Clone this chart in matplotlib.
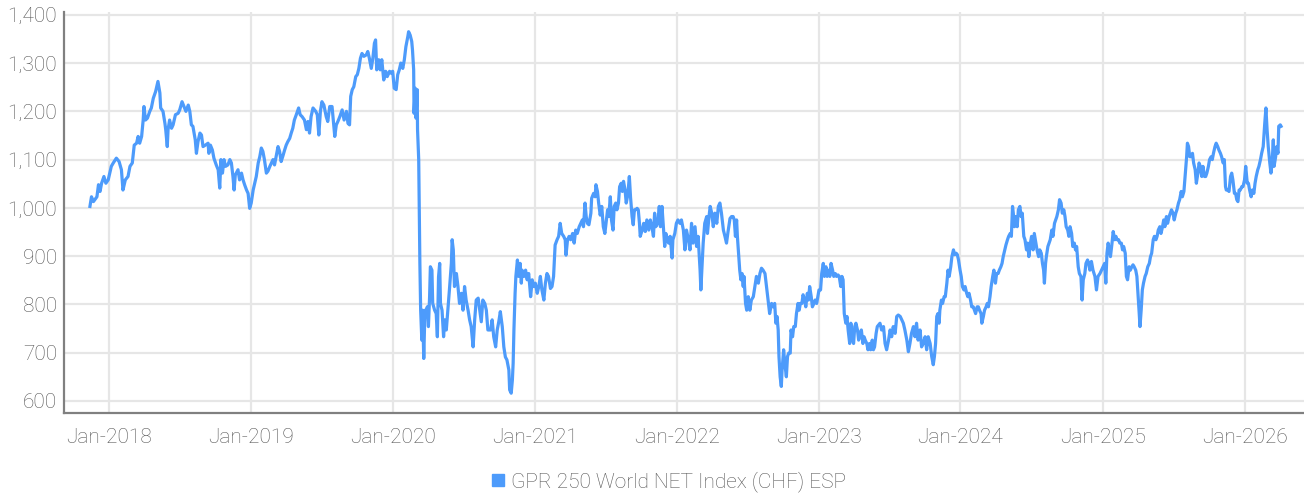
import matplotlib.pyplot as plt
import matplotlib.dates as mdates
from matplotlib.lines import Line2D
from matplotlib.ticker import FuncFormatter
import pandas as pd

# index levels, one list pair per calendar year (MM-DD, value)
days_2017 = ["11-13", "11-17", "11-22", "12-01", "12-05", "12-09", "12-13", "12-19", "12-24", "12-30"]
vals_2017 = [1003, 1023, 1013, 1023, 1048, 1034, 1051, 1065, 1051, 1058]

days_2018 = ["01-03", "01-07", "01-12", "01-20", "01-27", "02-02", "02-06", "02-12", "02-19", "02-24",
             "03-02", "03-07", "03-13", "03-17", "03-21", "03-26", "03-30", "04-01", "04-05", "04-10",
             "04-16", "04-20", "04-25", "05-01", "05-07", "05-12", "05-14", "05-20", "05-25", "05-27",
             "05-31", "06-02", "06-06", "06-11", "06-15", "06-21", "06-28", "07-02", "07-08", "07-13",
             "07-18", "07-24", "07-28", "08-01", "08-05", "08-11", "08-14", "08-18", "08-23", "08-27",
             "08-31", "09-06", "09-13", "09-15", "09-19", "09-24", "09-28", "10-04", "10-09", "10-13",
             "10-16", "10-20", "10-24", "10-28", "11-03", "11-08", "11-12", "11-16", "11-19", "11-22",
             "11-29", "12-03", "12-08", "12-12", "12-16", "12-21", "12-25", "12-29"]
vals_2018 = [1072, 1086, 1093, 1103, 1096, 1079, 1037, 1058, 1065, 1086,
             1093, 1130, 1134, 1148, 1134, 1148, 1182, 1210, 1182, 1186,
             1200, 1207, 1227, 1241, 1262, 1238, 1207, 1200, 1175, 1162,
             1127, 1162, 1182, 1165, 1172, 1193, 1196, 1203, 1220, 1210,
             1200, 1213, 1200, 1172, 1169, 1141, 1113, 1137, 1155, 1151,
             1127, 1130, 1134, 1113, 1130, 1120, 1103, 1089, 1079, 1041,
             1100, 1072, 1100, 1086, 1089, 1100, 1093, 1065, 1037, 1068,
             1079, 1058, 1072, 1058, 1048, 1037, 1030, 999]

days_2019 = ["01-02", "01-07", "01-11", "01-15", "01-20", "01-24", "01-28", "02-01", "02-05", "02-10",
             "02-14", "02-19", "02-23", "02-27", "03-03", "03-07", "03-12", "03-16", "03-20", "03-24",
             "03-29", "04-02", "04-06", "04-11", "04-15", "04-19", "04-23", "04-28", "05-04", "05-08",
             "05-13", "05-19", "05-24", "05-28", "06-01", "06-05", "06-10", "06-17", "06-21", "06-25",
             "06-29", "07-03", "07-08", "07-14", "07-18", "07-23", "07-29", "08-02", "08-05", "08-09",
             "08-13", "08-18", "08-24", "08-29", "09-04", "09-08", "09-12", "09-15", "09-19", "09-23",
             "09-28", "10-02", "10-06", "10-10", "10-14", "10-19", "10-25", "10-29", "11-02", "11-07",
             "11-11", "11-15", "11-18", "11-21", "11-26", "11-30", "12-04", "12-09", "12-14", "12-18",
             "12-24", "12-28"]
vals_2019 = [1010, 1037, 1051, 1065, 1093, 1106, 1124, 1117, 1100, 1072,
             1076, 1086, 1093, 1100, 1089, 1106, 1127, 1117, 1096, 1106,
             1120, 1130, 1137, 1144, 1155, 1165, 1182, 1193, 1207, 1193,
             1189, 1182, 1162, 1179, 1155, 1189, 1207, 1200, 1193, 1151,
             1200, 1220, 1213, 1189, 1179, 1210, 1210, 1175, 1148, 1172,
             1179, 1189, 1203, 1182, 1200, 1175, 1172, 1231, 1245, 1251,
             1272, 1276, 1289, 1310, 1320, 1314, 1317, 1324, 1310, 1289,
             1310, 1341, 1348, 1286, 1307, 1286, 1307, 1265, 1283, 1272,
             1283, 1279]

days_2020 = ["01-01", "01-05", "01-10", "01-14", "01-18", "01-22", "01-27", "01-31", "02-04", "02-09",
             "02-11", "02-15", "02-19", "02-21", "02-24", "02-25", "02-28", "03-01", "03-04", "03-05",
             "03-08", "03-10", "03-11", "03-13", "03-16", "03-18", "03-21", "03-24", "03-27", "03-30",
             "04-02", "04-05", "04-07", "04-11", "04-13", "04-18", "04-22", "04-25", "04-28", "05-01",
             "05-03", "05-07", "05-11", "05-14", "05-18", "05-22", "05-26", "05-31", "06-02", "06-05",
             "06-08", "06-13", "06-17", "06-21", "06-26", "06-30", "07-04", "07-08", "07-13", "07-17",
             "07-21", "07-26", "07-30", "08-03", "08-08", "08-12", "08-16", "08-20", "08-25", "08-29",
             "09-02", "09-09", "09-13", "09-17", "09-22", "09-26", "09-30", "10-04", "10-09", "10-13",
             "10-17", "10-21", "10-26", "10-28", "11-01", "11-04", "11-06", "11-08", "11-11", "11-13",
             "11-17", "11-20", "11-24", "11-27", "11-29", "12-04", "12-08", "12-12", "12-16", "12-21",
             "12-25", "12-29"]
vals_2020 = [1283, 1248, 1245, 1276, 1286, 1300, 1289, 1307, 1334, 1355,
             1365, 1358, 1345, 1327, 1286, 1196, 1248, 1186, 1245, 1162,
             1100, 954, 885, 788, 726, 788, 688, 788, 775, 795,
             754, 816, 878, 871, 802, 788, 781, 733, 857, 885,
             802, 788, 733, 768, 747, 788, 830, 885, 934, 913,
             837, 864, 837, 802, 823, 788, 837, 809, 788, 768,
             754, 712, 768, 809, 813, 788, 764, 809, 802, 788,
             747, 747, 768, 733, 712, 747, 764, 785, 754, 712,
             691, 685, 664, 623, 616, 643, 678, 747, 823, 858,
             892, 858, 885, 844, 871, 858, 871, 851, 864, 816,
             851, 837]

days_2021 = ["01-02", "01-07", "01-11", "01-15", "01-19", "01-24", "01-28", "02-01", "02-05", "02-10",
             "02-14", "02-18", "02-22", "02-27", "03-03", "03-07", "03-11", "03-16", "03-20", "03-22",
             "03-26", "03-30", "04-03", "04-08", "04-12", "04-16", "04-20", "04-25", "04-29", "05-03",
             "05-06", "05-10", "05-13", "05-16", "05-20", "05-25", "05-27", "06-01", "06-05", "06-07",
             "06-11", "06-14", "06-18", "06-22", "06-26", "06-30", "07-03", "07-07", "07-10", "07-14",
             "07-17", "07-21", "07-24", "07-28", "07-31", "08-04", "08-07", "08-11", "08-14", "08-17",
             "08-21", "08-24", "08-28", "09-01", "09-04", "09-08", "09-11", "09-14", "09-17", "09-21",
             "09-24", "09-27", "09-29", "10-04", "10-08", "10-12", "10-16", "10-21", "10-25", "10-29",
             "11-02", "11-05", "11-08", "11-13", "11-17", "11-20", "11-24", "11-27", "12-01", "12-04",
             "12-08", "12-11", "12-15", "12-20", "12-22", "12-27", "12-31"]
vals_2021 = [844, 823, 837, 858, 830, 809, 844, 864, 858, 833,
             837, 858, 923, 934, 941, 968, 947, 941, 934, 902,
             934, 941, 934, 947, 927, 954, 947, 961, 968, 975,
             961, 1010, 982, 968, 965, 989, 1020, 1030, 1023, 1048,
             1034, 1010, 985, 1003, 961, 947, 968, 996, 982, 1023,
             975, 954, 1003, 1010, 996, 1010, 1044, 1051, 1034, 1055,
             1037, 1010, 1027, 1065, 1023, 982, 965, 996, 996, 999,
             996, 968, 941, 954, 968, 951, 975, 954, 975, 961,
             941, 989, 961, 968, 1003, 961, 1003, 968, 920, 947,
             934, 927, 941, 896, 934, 947, 968]

days_2022 = ["01-04", "01-09", "01-13", "01-18", "01-22", "01-26", "01-31", "02-04", "02-08", "02-12",
             "02-17", "02-21", "02-25", "03-02", "03-04", "03-07", "03-10", "03-14", "03-19", "03-21",
             "03-25", "03-28", "04-01", "04-05", "04-09", "04-14", "04-18", "04-22", "04-26", "05-01",
             "05-05", "05-09", "05-13", "05-18", "05-22", "05-26", "05-29", "06-01", "06-04", "06-06",
             "06-10", "06-12", "06-15", "06-18", "06-21", "06-23", "06-27", "06-30", "07-04", "07-08",
             "07-12", "07-17", "07-21", "07-25", "07-30", "08-03", "08-07", "08-11", "08-16", "08-20",
             "08-24", "08-28", "09-02", "09-06", "09-10", "09-13", "09-16", "09-19", "09-21", "09-24",
             "09-27", "09-29", "10-03", "10-06", "10-10", "10-13", "10-16", "10-20", "10-22", "10-26",
             "10-29", "11-02", "11-05", "11-09", "11-12", "11-15", "11-19", "11-22", "11-26", "11-29",
             "12-03", "12-06", "12-09", "12-13", "12-16", "12-20", "12-23", "12-27", "12-30"]
vals_2022 = [975, 968, 975, 954, 913, 954, 934, 913, 968, 927,
             961, 920, 941, 871, 830, 878, 927, 968, 982, 947,
             982, 1003, 989, 961, 989, 968, 1003, 1010, 989, 954,
             941, 927, 951, 978, 982, 982, 975, 941, 975, 941,
             892, 871, 851, 864, 837, 858, 802, 788, 816, 788,
             809, 816, 837, 858, 844, 864, 875, 871, 864, 837,
             809, 781, 802, 795, 802, 761, 775, 747, 692, 650,
             630, 664, 706, 678, 650, 692, 699, 699, 747, 733,
             754, 754, 781, 802, 788, 802, 802, 820, 809, 795,
             823, 809, 837, 816, 795, 802, 809, 802, 816]

days_2023 = ["01-02", "01-06", "01-09", "01-13", "01-16", "01-20", "01-23", "01-26", "01-30", "02-02",
             "02-06", "02-09", "02-13", "02-16", "02-20", "02-23", "02-27", "03-02", "03-05", "03-08",
             "03-12", "03-15", "03-18", "03-22", "03-25", "03-28", "04-01", "04-04", "04-07", "04-11",
             "04-14", "04-18", "04-21", "04-25", "04-28", "05-01", "05-05", "05-08", "05-12", "05-15",
             "05-19", "05-22", "05-25", "05-29", "06-01", "06-08", "06-12", "06-17", "06-21", "06-25",
             "06-30", "07-04", "07-08", "07-12", "07-17", "07-21", "07-25", "07-30", "08-03", "08-07",
             "08-11", "08-16", "08-20", "08-24", "08-28", "09-02", "09-06", "09-10", "09-14", "09-19",
             "09-23", "09-27", "10-02", "10-06", "10-10", "10-15", "10-19", "10-23", "10-26", "10-29",
             "11-01", "11-04", "11-07", "11-09", "11-13", "11-16", "11-20", "11-23", "11-27", "11-30",
             "12-03", "12-07", "12-10", "12-14", "12-17", "12-21", "12-24", "12-27", "12-31"]
vals_2023 = [830, 830, 864, 885, 858, 878, 858, 871, 858, 885,
             871, 858, 864, 858, 861, 858, 837, 858, 851, 781,
             761, 775, 747, 719, 761, 733, 719, 754, 761, 747,
             726, 740, 747, 719, 733, 726, 719, 706, 719, 706,
             726, 706, 712, 740, 754, 761, 747, 754, 719, 706,
             726, 747, 733, 754, 740, 775, 778, 775, 768, 761,
             747, 726, 702, 719, 740, 754, 733, 761, 726, 747,
             712, 719, 733, 706, 733, 719, 692, 675, 692, 719,
             775, 781, 761, 788, 809, 802, 816, 816, 844, 871,
             858, 878, 899, 913, 903, 906, 903, 892, 871]

days_2024 = ["01-03", "01-06", "01-10", "01-13", "01-17", "01-20", "01-23", "01-27", "01-30", "02-03",
             "02-06", "02-09", "02-13", "02-16", "02-19", "02-23", "02-25", "02-29", "03-03", "03-07",
             "03-10", "03-13", "03-17", "03-20", "03-24", "03-27", "03-31", "04-03", "04-07", "04-10",
             "04-14", "04-17", "04-20", "04-24", "04-27", "05-01", "05-04", "05-08", "05-11", "05-14",
             "05-16", "05-19", "05-22", "05-26", "05-29", "06-02", "06-05", "06-08", "06-12", "06-15",
             "06-19", "06-22", "06-25", "06-29", "07-02", "07-06", "07-09", "07-13", "07-16", "07-20",
             "07-23", "07-27", "07-30", "08-02", "08-04", "08-07", "08-09", "08-13", "08-16", "08-19",
             "08-23", "08-26", "08-30", "09-02", "09-05", "09-09", "09-12", "09-16", "09-19", "09-23",
             "09-26", "09-29", "10-03", "10-06", "10-09", "10-13", "10-16", "10-20", "10-23", "10-26",
             "10-30", "11-02", "11-06", "11-09", "11-12", "11-16", "11-19", "11-23", "11-26", "11-29",
             "12-03", "12-07", "12-12", "12-16", "12-20", "12-25", "12-29"]
vals_2024 = [858, 837, 830, 837, 823, 816, 823, 809, 795, 795,
             788, 781, 795, 795, 788, 781, 761, 775, 788, 795,
             802, 795, 816, 837, 858, 871, 844, 864, 864, 871,
             878, 885, 899, 913, 923, 934, 941, 947, 941, 1003,
             989, 961, 982, 961, 996, 1003, 982, 989, 941, 934,
             913, 927, 899, 927, 941, 913, 947, 927, 913, 899,
             913, 906, 885, 871, 844, 885, 899, 920, 927, 934,
             954, 941, 968, 975, 982, 996, 1017, 1010, 989, 996,
             982, 961, 954, 941, 961, 947, 920, 927, 913, 920,
             878, 864, 858, 809, 851, 864, 885, 892, 885, 871,
             889, 871, 858, 830, 858, 864, 871]

days_2025 = ["01-02", "01-06", "01-09", "01-12", "01-15", "01-18", "01-21", "01-25", "01-28", "02-01",
             "02-04", "02-07", "02-11", "02-14", "02-18", "02-21", "02-24", "02-28", "03-03", "03-06",
             "03-10", "03-13", "03-17", "03-20", "03-23", "03-27", "03-30", "04-03", "04-05", "04-07",
             "04-10", "04-13", "04-16", "04-20", "04-23", "04-27", "05-01", "05-04", "05-07", "05-11",
             "05-14", "05-18", "05-21", "05-24", "05-28", "05-31", "06-04", "06-07", "06-10", "06-14",
             "06-17", "06-21", "06-24", "06-27", "07-01", "07-04", "07-08", "07-11", "07-15", "07-18",
             "07-22", "07-25", "07-29", "08-01", "08-05", "08-07", "08-10", "08-13", "08-16", "08-20",
             "08-23", "08-27", "08-30", "09-03", "09-06", "09-09", "09-13", "09-16", "09-20", "09-23",
             "09-26", "09-30", "10-03", "10-07", "10-10", "10-13", "10-17", "10-20", "10-24", "10-27",
             "10-31", "11-03", "11-07", "11-10", "11-13", "11-15", "11-19", "11-22", "11-26", "11-29",
             "12-02", "12-06", "12-09", "12-12", "12-15", "12-18", "12-21", "12-25", "12-28"]
vals_2025 = [878, 885, 844, 906, 927, 913, 899, 927, 951, 934,
             941, 934, 934, 927, 927, 913, 920, 906, 858, 851,
             878, 871, 878, 882, 878, 871, 858, 809, 781, 754,
             788, 830, 844, 858, 864, 878, 885, 899, 906, 934,
             941, 934, 941, 954, 961, 947, 961, 975, 961, 982,
             968, 982, 989, 996, 989, 975, 989, 996, 1010, 1017,
             1034, 1023, 1034, 1065, 1106, 1134, 1127, 1106, 1106, 1113,
             1093, 1079, 1051, 1072, 1093, 1086, 1065, 1086, 1065, 1065,
             1072, 1086, 1100, 1106, 1100, 1113, 1127, 1134, 1127, 1120,
             1113, 1106, 1093, 1100, 1044, 1037, 1037, 1034, 1065, 1072,
             1058, 1030, 1030, 1017, 1013, 1037, 1037, 1044, 1044]

days_2026 = ["01-01", "01-04", "01-08", "01-11", "01-14", "01-18", "01-21", "01-25", "01-28", "01-31",
             "02-04", "02-07", "02-11", "02-14", "02-18", "02-22", "02-25", "02-28", "03-03", "03-07",
             "03-10", "03-13", "03-16", "03-18", "03-22", "03-25", "03-28", "03-30", "04-03", "04-05"]
vals_2026 = [1058, 1086, 1051, 1051, 1037, 1023, 1037, 1030, 1051, 1065,
             1079, 1086, 1100, 1113, 1127, 1175, 1207, 1162, 1127, 1093,
             1072, 1093, 1141, 1086, 1106, 1127, 1113, 1169, 1172, 1169]

series_name = "GPR 250 World NET Index (CHF) ESP"
y_ticks = [600, 700, 800, 900, 1000, 1100, 1200, 1300, 1400]
tick_years = list(range(2018, 2027))

years = [
    (2017, days_2017, vals_2017), (2018, days_2018, vals_2018), (2019, days_2019, vals_2019),
    (2020, days_2020, vals_2020), (2021, days_2021, vals_2021), (2022, days_2022, vals_2022),
    (2023, days_2023, vals_2023), (2024, days_2024, vals_2024), (2025, days_2025, vals_2025),
    (2026, days_2026, vals_2026),
]
dates, values = [], []
for yr, days, vals in years:
    dates += [f"{yr}-{d}" for d in days]
    values += vals
dates = pd.to_datetime(dates)

line_color = "#4d9bfb"
text_color = "#555555"
plt.rcParams['font.family'] = ['Roboto', 'DejaVu Sans']

fig = plt.figure(figsize=(13.04, 4.97), dpi=100)
ax = fig.add_axes([0.049, 0.17, 0.951, 0.806])
ax.plot(dates, values, color=line_color, lw=2.3, solid_joinstyle='round')

ax.set_xlim(pd.Timestamp("2017-09-07"), pd.Timestamp("2026-06-03"))
ax.set_ylim(576, 1406)
ax.set_yticks(y_ticks)
ax.yaxis.set_major_formatter(FuncFormatter(lambda v, p: f"{v:,.0f}"))
ax.set_xticks([pd.Timestamp(f"{y}-01-01") for y in tick_years])
ax.xaxis.set_major_formatter(mdates.DateFormatter("%b-%Y"))

ax.grid(True, color="#e6e6e6", lw=1.6)
ax.set_axisbelow(True)
for side in ["top", "right"]:
    ax.spines[side].set_visible(False)
for side in ["left", "bottom"]:
    ax.spines[side].set_color("#808080")
    ax.spines[side].set_linewidth(1.6)
ax.tick_params(axis="both", length=0, labelsize=15, labelcolor=text_color)
ax.tick_params(axis="x", pad=11)
ax.tick_params(axis="y", pad=5)
for lbl in ax.get_xticklabels() + ax.get_yticklabels():
    lbl.set_fontweight("light")

handle = Line2D([], [], marker="s", ls="none", color=line_color, markersize=8)
leg = fig.legend([handle], [series_name], loc="center", bbox_to_anchor=(0.5115, 1 - 482 / 497),
                 frameon=False, fontsize=15, handletextpad=0.1, handlelength=1.0,
                 labelcolor=text_color)
for t in leg.get_texts():
    t.set_fontweight("light")

fig.savefig("out.png", dpi=100)
